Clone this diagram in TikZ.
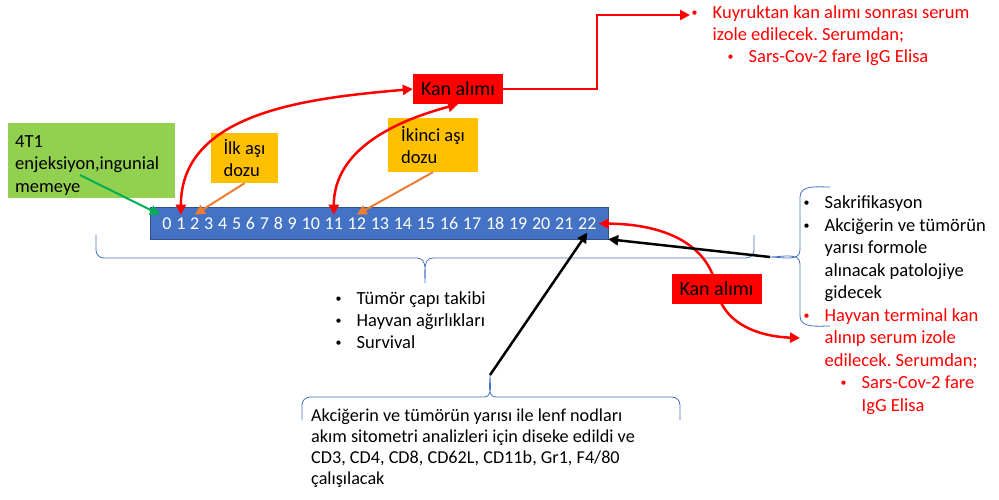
\documentclass[tikz,border=0pt]{standalone}
\usepackage{fontspec}
\setmainfont{Carlito}
\usepackage{tikz}
\usetikzlibrary{arrows.meta,positioning,calc}
\pgfdeclarelayer{foreground}
\pgfsetlayers{main,foreground}
\definecolor{tlblue}{HTML}{4472C4}
\definecolor{tlborder}{HTML}{2F528F}
\definecolor{limegreen}{HTML}{92D050}
\definecolor{amber}{HTML}{FFC000}
\definecolor{arrgreen}{HTML}{00B050}
\definecolor{arrorange}{HTML}{ED7D31}
\definecolor{kred}{HTML}{FF0000}
\newcommand{\blt}{\makebox[21pt][l]{\raisebox{2pt}{\fontsize{12}{12}\selectfont\textbullet}}}
\frenchspacing

\begin{document}
\begin{tikzpicture}[x=1pt,y=-1pt,>={Triangle[length=10pt,width=10pt]},
    every node/.style={font=\fontsize{18.5}{22}\selectfont},
    num/.style={text=white, font=\fontsize{18}{22}\selectfont, inner xsep=2.2pt, inner ysep=3pt},
    redbox/.style={fill=kred, minimum width=90pt, minimum height=30pt, inner sep=0pt, font=\fontsize{20}{22}\selectfont},
    redline/.style={draw=kred, line width=2.5pt},
    blackline/.style={draw=black, line width=2.5pt},
    brace/.style={draw=tlblue, line width=0.8pt},
    txt/.style={anchor=north west, align=left, inner sep=0pt}]
      \useasboundingbox (0,0) rectangle (999,499);

      % braces
      \draw[brace] (96,235) -- (96,250) to[out=-90,in=180] (104,258) -- (417,258)
        to[out=0,in=90] (425,283) to[out=90,in=180] (433,258) -- (746,258)
        to[out=0,in=-90] (754,250) -- (754,235);
      \draw[brace] (302,420) -- (302,405) to[out=90,in=180] (310,397) -- (484,397)
        to[out=0,in=-90] (490,375) to[out=-90,in=180] (496,397) -- (672,397)
        to[out=0,in=90] (680,405) -- (680,420);
      \draw[brace] (830,187) to[out=180,in=90] (800,197) -- (800,250)
        to[out=-90,in=0] (770,257) to[out=0,in=90] (800,264) -- (800,316)
        to[out=-90,in=180] (830,326);
      \coordinate (tipM) at (490,375);
      \coordinate (tipR) at (770,257);

      % timeline
      \node[draw=tlborder, fill=tlblue, minimum width=458pt, minimum height=32pt, inner sep=0pt] (tl) at (379,223) {};
      \node[num, anchor=base west] (n0) at (160,229.5) {0};
      \foreach \i [count=\j from 0] in {1,...,22}
        \node[num, base right=0pt of n\j] (n\i) {\i};

      \node[fill=limegreen, minimum width=167pt, minimum height=75pt] (inj) at (91.5,160.5) {};
      \node[txt, font=\fontsize{18.5}{22.5}\selectfont] (injtxt) at (15,135) {4T1\\enjeksiyon,ingunial\\memeye};
      \node[fill=amber, minimum width=67pt, minimum height=50pt, align=left] (dose1) at (244.5,158) {İlk aşı\\dozu};
      \node[fill=amber, minimum width=90pt, minimum height=54pt, align=left] (dose2) at (433,145) {İkinci aşı\\dozu};

      \begin{pgfonlayer}{foreground}
      \node[redbox] (kan1) at (458,89) {Kan alımı};
      \node[redbox] (kan2) at (716.5,288.5) {Kan alımı};
      \end{pgfonlayer}

      % texts
      \node[txt, text=kred] (serum1) at (691.5,5) {\blt Kuyruktan kan alımı sonrası serum\\\hspace*{21pt}izole edilecek. Serumdan;\\\hspace*{36pt}\blt Sars-Cov-2 fare IgG Elisa};
      \node[txt] (takip) at (335.5,291) {\blt Tümör çapı takibi\\\blt Hayvan ağırlıkları\\\blt Survival};
      \node[txt, font=\fontsize{18.5}{22.5}\selectfont] (sakr) at (803.5,195.5) {\blt Sakrifikasyon\\\blt Akciğerin ve tümörün\\\hspace*{21pt}yarısı formole\\\hspace*{21pt}alınacak patolojiye\\\hspace*{21pt}gidecek\\\textcolor{kred}{\blt Hayvan terminal kan}\\\textcolor{kred}{\hspace*{21pt}alınıp serum izole}\\\textcolor{kred}{\hspace*{21pt}edilecek. Serumdan;}\\\textcolor{kred}{\hspace*{37pt}\blt Sars-Cov-2 fare}\\\textcolor{kred}{\hspace*{58pt}IgG Elisa}};
      \node[txt, font=\fontsize{18.2}{21}\selectfont] (akim) at (311,408.5) {Akciğerin ve tümörün yarısı ile lenf nodları\\akım sitometri analizleri için diseke edildi ve\\CD3, CD4, CD8, CD62L, CD11b, Gr1, F4/80\\çalışılacak};

      % connectors
      \coordinate (gstart) at (80,175);
      \coordinate (kuyBend) at (597,15);
      \coordinate (kuyR) at (690,15);
      \coordinate (termR) at (800,338);
      \draw[arrgreen, line width=2pt, ->] (gstart) -- (n0.north west);
      \draw[arrorange, line width=2pt, ->] (dose1.south) -- (n2.north);
      \draw[arrorange, line width=2pt, ->] (dose2.south) -- (n12.north);
      \draw[redline, <->] (n1.north) to[out=90,in=185] (kan1.west);
      \draw[redline, <->] (n11.north) to[out=90,in=195] (kan1.south);
      \draw[redline, ->] (kan1.east) -| (kuyBend) -- (kuyR);
      \draw[redline, <->] (n22.east) to[out=0,in=100] (kan2.center) to[out=-80,in=178] (termR);
      \draw[blackline, ->] (tipM) -- (n22.south);
      \draw[blackline, ->] (tipR) -- (tl.south east);
\end{tikzpicture}
\end{document}
